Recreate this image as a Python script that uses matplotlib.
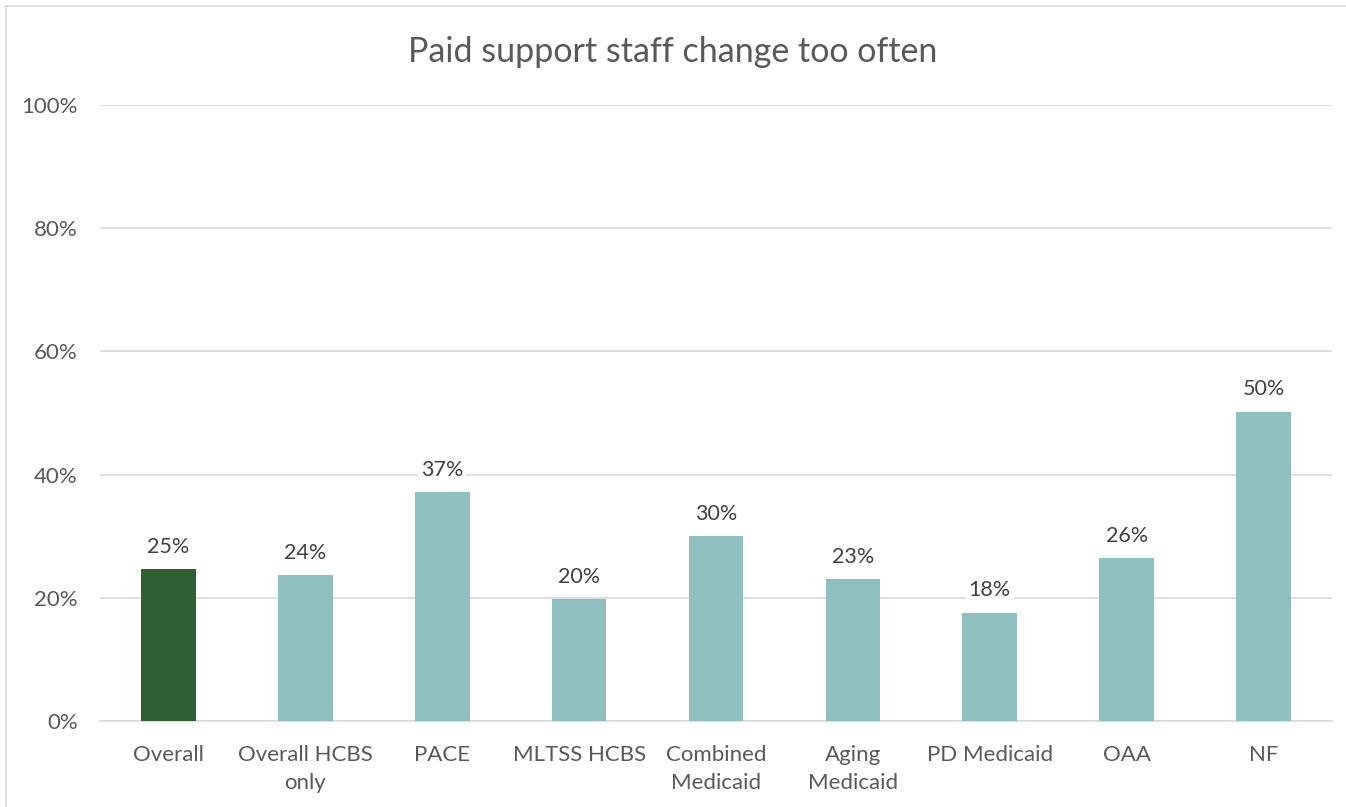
import matplotlib.pyplot as plt
from matplotlib.patches import Rectangle

categories = ["Overall", "Overall HCBS\nonly", "PACE", "MLTSS HCBS", "Combined\nMedicaid",
              "Aging\nMedicaid", "PD Medicaid", "OAA", "NF"]
values = [24.6, 23.7, 37.2, 19.8, 30.0, 23.0, 17.6, 26.4, 50.2]
bar_colors = ["#2F6032"] + ["#8FBFBE"] * 8

txt = "#595959"
plt.rcParams["font.family"] = ["Lato", "DejaVu Sans"]

fig = plt.figure(figsize=(13.46, 8.07), dpi=100)
ax = fig.add_axes([0.0743, 0.1066, 0.9153, 0.7633])

x = range(len(categories))
bars = ax.bar(x, values, width=0.4, color=bar_colors, zorder=3)

for b, v in zip(bars, values):
    ax.text(b.get_x() + b.get_width() / 2, v + 2.0, f"{v:.0f}%", ha="center", va="bottom",
            fontsize=15.5, color="#404040", zorder=4,
            bbox=dict(facecolor="white", edgecolor="none", pad=2))

ax.set_xlim(-0.5, len(categories) - 0.5)
ax.set_ylim(0, 100)
ax.set_yticks(range(0, 101, 20))
ax.set_yticklabels([f"{t}%" for t in range(0, 101, 20)])
ax.set_xticks(list(x))
ax.set_xticklabels(categories, linespacing=1.5)
ax.tick_params(axis="both", length=0, colors=txt, labelsize=16)
ax.tick_params(axis="y", pad=16)
ax.tick_params(axis="x", pad=17)
ax.grid(axis="y", color="#D9D9D9", linewidth=1.2, zorder=0)
for s in ["top", "right", "left"]:
    ax.spines[s].set_visible(False)
ax.spines["bottom"].set_color("#D9D9D9")
ax.spines["bottom"].set_linewidth(1.2)

fig.text(0.5, 0.936, "Paid support staff change too often", ha="center", va="center",
         fontsize=24.5, color=txt)

# light frame around the chart area
fig.patches.append(Rectangle((6 / 1346, -0.01), 1.1, 1 - 6 / 807 + 0.01, transform=fig.transFigure,
                             fill=False, edgecolor="#D9D9D9", linewidth=1.2))

fig.savefig("out.png", dpi=100, facecolor="white")
